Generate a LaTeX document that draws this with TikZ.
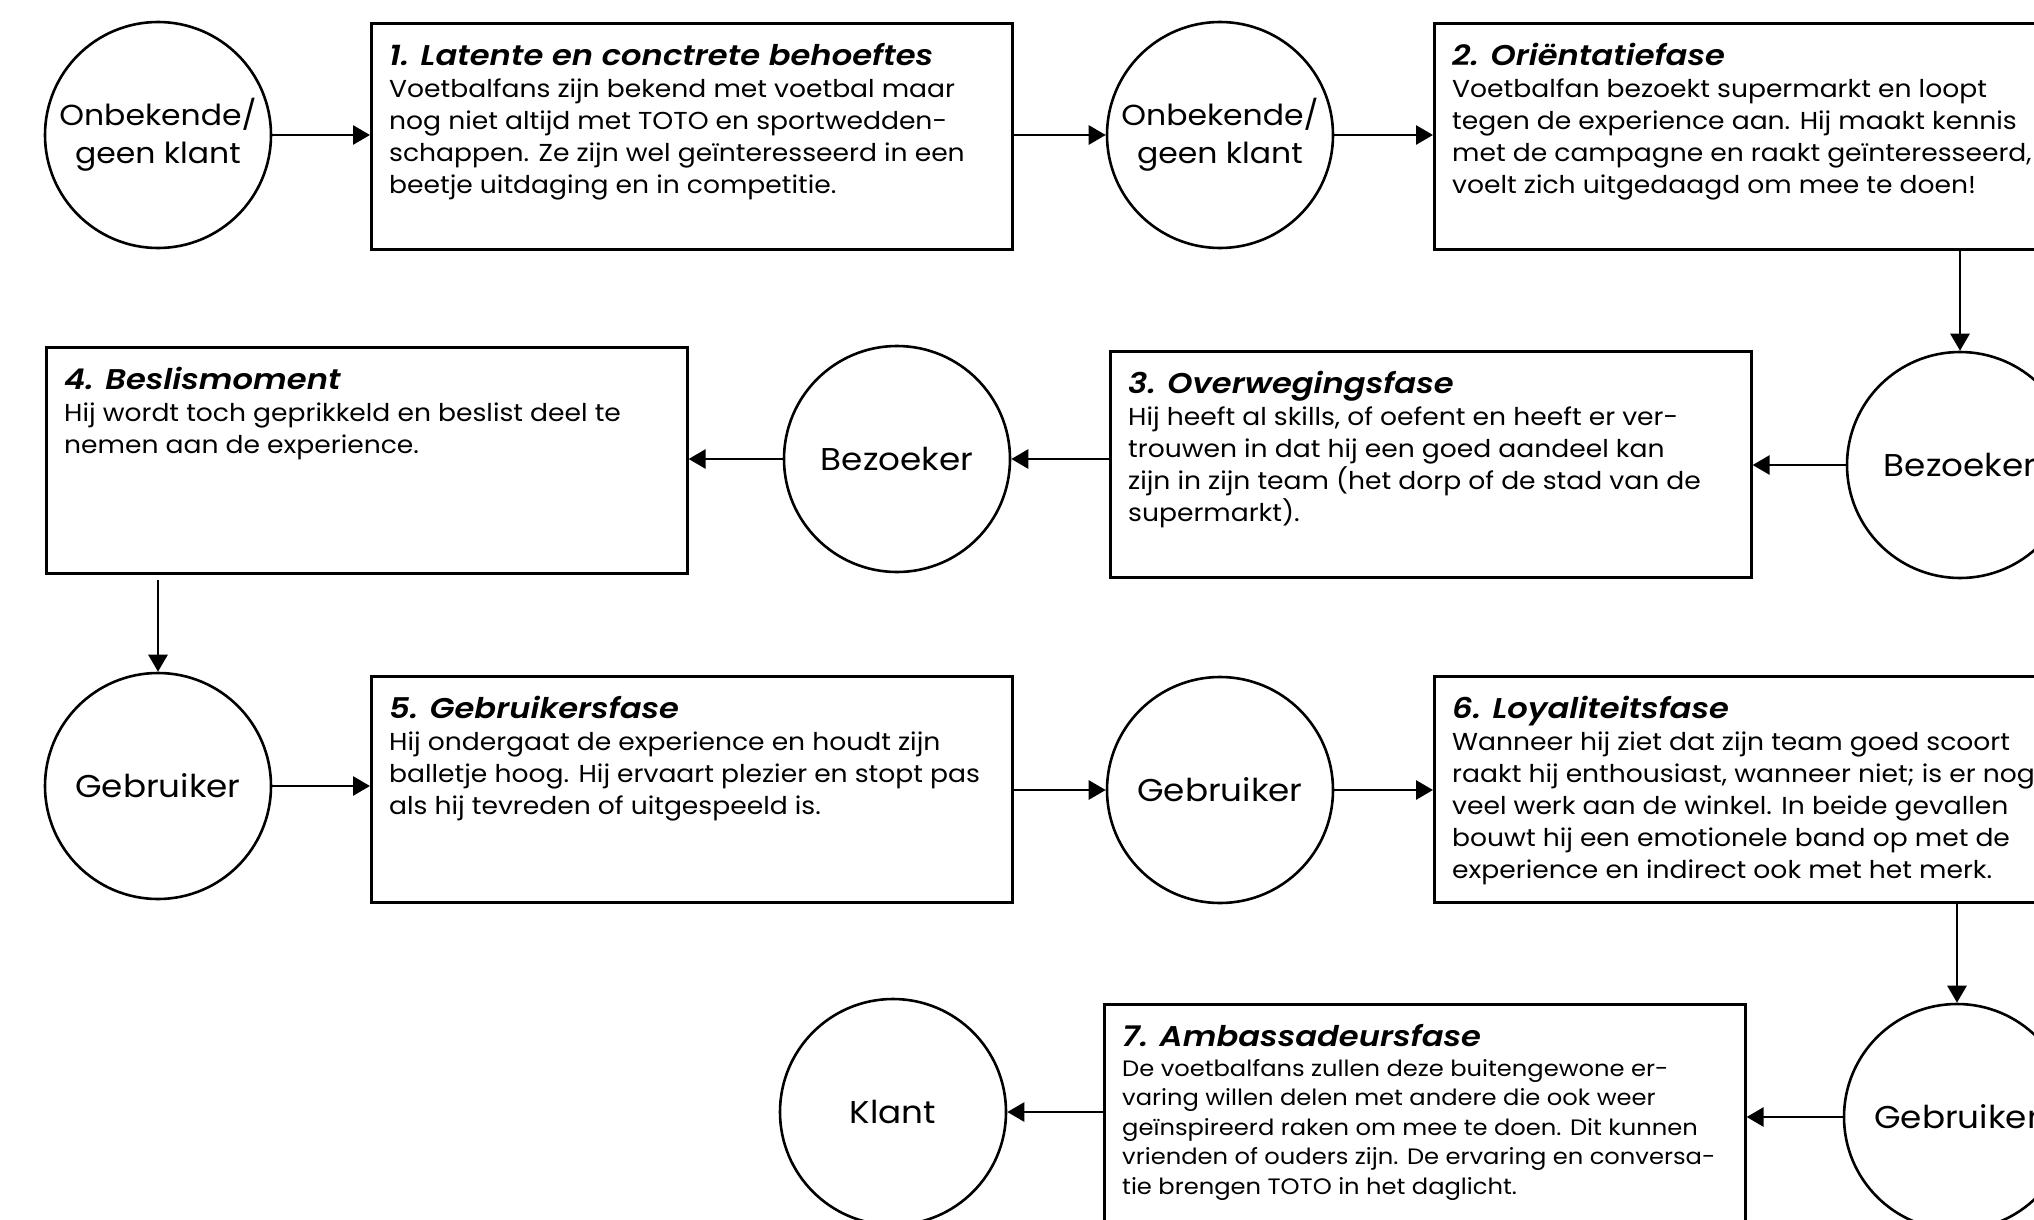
\documentclass[tikz,border=0pt]{standalone}
\usepackage{fontspec}
\setmainfont{Poppins}[FakeStretch=1.085]
\newfontfamily\titlefont{Poppins SemiBold Italic}[FakeStretch=1.13]
\usetikzlibrary{arrows.meta,calc}
\newcommand\phasetitle[1]{{\fontsize{28.5}{32}\titlefont #1}}
\begin{document}
\begin{tikzpicture}[x=1pt,y=-1pt,
  box/.style={draw, line width=2.6pt, minimum width=641pt, minimum height=226pt, anchor=north west, inner sep=0pt},
  circ/.style={draw, circle, line width=2.6pt, minimum size=226pt, inner sep=0pt, align=center, font=\fontsize{31.5}{38}\selectfont},
  circtwo/.style={circ, font=\fontsize{29}{38}\selectfont},
  arr/.style={line width=2.8pt, -{Triangle[length=17pt,width=19pt]}},
  txt/.style={anchor=north west, inner sep=0pt, align=left, font=\fontsize{24.5}{32}\selectfont},
  txtsmall/.style={txt, font=\fontsize{22.3}{29.6}\selectfont}]
\useasboundingbox (0,0) rectangle (2034,1220);
\fill[white] (0,0) rectangle (2034,1220);
\clip (0,0) rectangle (2034,1220);

% circles
\node[circtwo] (c1) at (158,135) {Onbekende/\\geen klant};
\node[circtwo] (c2) at (1220,135) {Onbekende/\\geen klant};
\node[circ] (c3) at (1960,465) {Bezoeker};
\node[circ] (c4) at (897,459) {Bezoeker};
\node[circ] (c5) at (158,786) {Gebruiker};
\node[circ] (c6) at (1220,790) {Gebruiker};
\node[circ] (c7) at (1957,1117) {Gebruiker};
\node[circ] (c8) at (893,1112) {Klant};

% boxes
\node[box] (b1) at (370,22) {};
\node[box] (b2) at (1433,22) {};
\node[box] (b3) at (1109,350) {};
\node[box] (b4) at (45,346) {};
\node[box] (b5) at (370,675) {};
\node[box] (b6) at (1433,675) {};
\node[box] (b7) at (1103,1003) {};

% texts
\node[txt] (t1) at ($(b1.north west)+(19,21)$) {\phasetitle{1. Latente en conctrete behoeftes}\\
Voetbalfans zijn bekend met voetbal maar\\
nog niet altijd met TOTO en sportwedden-\\
schappen. Ze zijn wel geïnteresseerd in een\\
beetje uitdaging en in competitie.};
\node[txt] (t2) at ($(b2.north west)+(19,21)$) {\phasetitle{2. Oriëntatiefase}\\
Voetbalfan bezoekt supermarkt en loopt\\
tegen de experience aan. Hij maakt kennis\\
met de campagne en raakt geïnteresseerd,\\
voelt zich uitgedaagd om mee te doen!};
\node[txt] (t3) at ($(b3.north west)+(19,21)$) {\phasetitle{3. Overwegingsfase}\\
Hij heeft al skills, of oefent en heeft er ver-\\
trouwen in dat hij een goed aandeel kan\\
zijn in zijn team (het dorp of de stad van de\\
supermarkt).};
\node[txt] (t4) at ($(b4.north west)+(19,21)$) {\phasetitle{4. Beslismoment}\\
Hij wordt toch geprikkeld en beslist deel te\\
nemen aan de experience.};
\node[txt] (t5) at ($(b5.north west)+(19,21)$) {\phasetitle{5. Gebruikersfase}\\
Hij ondergaat de experience en houdt zijn\\
balletje hoog. Hij ervaart plezier en stopt pas\\
als hij tevreden of uitgespeeld is.};
\node[txt] (t6) at ($(b6.north west)+(19,21)$) {\phasetitle{6. Loyaliteitsfase}\\
Wanneer hij ziet dat zijn team goed scoort\\
raakt hij enthousiast, wanneer niet; is er nog\\
veel werk aan de winkel. In beide gevallen\\
bouwt hij een emotionele band op met de\\
experience en indirect ook met het merk.};
\node[txtsmall] (t7) at ($(b7.north west)+(19,21)$) {\phasetitle{7. Ambassadeursfase}\\
De voetbalfans zullen deze buitengewone er-\\
varing willen delen met andere die ook weer\\
geïnspireerd raken om mee te doen. Dit kunnen\\
vrienden of ouders zijn. De ervaring en conversa-\\
tie brengen TOTO in het daglicht.};

% connectors
\draw[arr] (c1.east) -- (c1.east -| b1.west);
\draw[arr] (b1.east |- c2.west) -- (c2.west);
\draw[arr] (c2.east) -- (c2.east -| b2.west);
\draw[arr] (b2.south -| c3.north) -- (c3.north);
\draw[arr] (c3.west) -- (c3.west -| b3.east);
\draw[arr] (b3.west |- c4.east) -- (c4.east);
\draw[arr] (c4.west) -- (c4.west -| b4.east);
\draw[arr, shorten <=5pt] (b4.south -| c5.north) -- (c5.north);
\draw[arr] (c5.east) -- (c5.east -| b5.west);
\draw[arr] (b5.east |- c6.west) -- (c6.west);
\draw[arr] (c6.east) -- (c6.east -| b6.west);
\draw[arr] (b6.south -| c7.north) -- (c7.north);
\draw[arr] (c7.west) -- (c7.west -| b7.east);
\draw[arr] (b7.west |- c8.east) -- (c8.east);
\end{tikzpicture}
\end{document}
